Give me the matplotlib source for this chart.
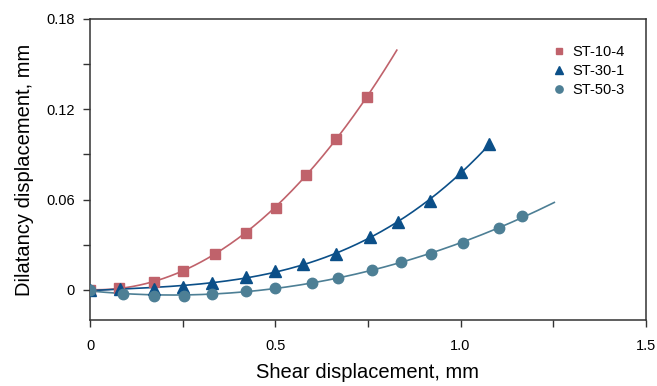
import numpy as np
import matplotlib
matplotlib.use("Agg")
import matplotlib.pyplot as plt
from matplotlib.ticker import FixedLocator

plt.rcParams['font.family'] = ['Liberation Sans', 'DejaVu Sans']

# ST-10-4
x_st10 = [0.0, 0.077, 0.174, 0.25, 0.336, 0.42, 0.501, 0.582, 0.663, 0.747]
y_st10 = [0.0, 0.0013, 0.0053, 0.0127, 0.024, 0.038, 0.0547, 0.076, 0.100, 0.128]
end_st10 = 0.828

# ST-30-1
x_st30 = [0.0, 0.08, 0.172, 0.25, 0.33, 0.42, 0.50, 0.574, 0.665, 0.755, 0.83, 0.918, 1.0, 1.078]
y_st30 = [0.0, 0.0007, 0.0007, 0.002, 0.0047, 0.0087, 0.0127, 0.017, 0.024, 0.035, 0.045, 0.059, 0.078, 0.097]
end_st30 = 1.078

# ST-50-3
x_st50 = [0.0, 0.088, 0.172, 0.253, 0.328, 0.42, 0.50, 0.598, 0.669, 0.76, 0.84, 0.92, 1.007, 1.105, 1.167]
y_st50 = [0.0, -0.0027, -0.004, -0.004, -0.0027, -0.0007, 0.0013, 0.0047, 0.008, 0.0133, 0.0187, 0.024, 0.031, 0.041, 0.049]
end_st50 = 1.253

series = [
    ("ST-10-4", x_st10, y_st10, end_st10, "#c0626b", "s", 7),
    ("ST-30-1", x_st30, y_st30, end_st30, "#0b4f88", "^", 9),
    ("ST-50-3", x_st50, y_st50, end_st50, "#4d7f95", "o", 7.5),
]

fig = plt.figure(figsize=(6.57, 3.86), dpi=100)
ax = fig.add_axes([0.137, 0.171, 0.846, 0.78])

for name, xs, ys, xend, color, marker, ms in series:
    # trend line through the measured points
    coef = np.polyfit(xs, ys, 3)
    xf = np.linspace(0, xend, 200)
    ax.plot(xf, np.polyval(coef, xf), color=color, lw=1.2, zorder=2)
    ax.plot(xs, ys, linestyle="none", marker=marker, ms=ms, color=color,
            label=name, zorder=3)

ax.set_xlim(0, 1.5)
ax.set_ylim(-0.02, 0.18)
ax.xaxis.set_major_locator(FixedLocator([0, 0.5, 1.0, 1.5]))
ax.set_xticklabels(["0", "0.5", "1.0", "1.5"])
ax.xaxis.set_minor_locator(FixedLocator([0.25, 0.75, 1.25]))
ax.yaxis.set_major_locator(FixedLocator([0, 0.06, 0.12, 0.18]))
ax.set_yticklabels(["0", "0.06", "0.12", "0.18"])
ax.yaxis.set_minor_locator(FixedLocator([0.03, 0.09, 0.15]))

ax.tick_params(which="both", direction="out", length=5, width=1,
               color="#333333", labelsize=10.5)
ax.tick_params(axis="x", pad=9)
ax.tick_params(axis="y", pad=6)
for sp in ax.spines.values():
    sp.set_color("#333333")
    sp.set_linewidth(1.1)

ax.set_xlabel("Shear displacement, mm", fontsize=14.5, labelpad=7)
ax.set_ylabel("Dilatancy displacement, mm", fontsize=14.5, labelpad=9)

ax.legend(loc="upper right", frameon=False, fontsize=10.5, handletextpad=0.4,
          handlelength=1.0, labelspacing=0.35, markerscale=0.7,
          bbox_to_anchor=(0.985, 0.958))

fig.savefig("out.png", dpi=100)
